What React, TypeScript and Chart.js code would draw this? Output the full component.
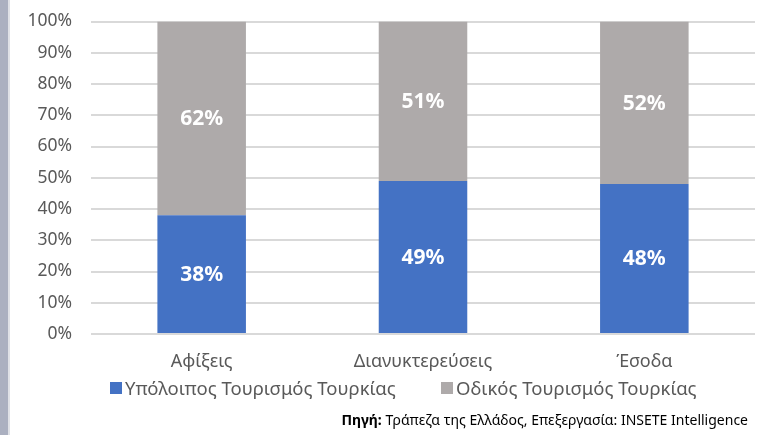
import React, { useEffect, useRef } from "react";
import { Chart, registerables } from "chart.js";

Chart.register(...registerables);

const categories = ["Αφίξεις", "Διανυκτερεύσεις", "Έσοδα"];
const restTourism = [38, 49, 48];
const roadTourism = [62, 51, 52];
const seriesNames = ["Υπόλοιπος Τουρισμός Τουρκίας", "Οδικός Τουρισμός Τουρκίας"];
const seriesColors = ["#4472C4", "#AEAAAA"];
const yTicks = [0, 10, 20, 30, 40, 50, 60, 70, 80, 90, 100];

const FONT = "'Noto Sans', 'Open Sans', sans-serif";

const labelPlugin = {
  id: "segLabels",
  afterDatasetsDraw(chart: any) {
    const ctx = chart.ctx;
    ctx.save();
    ctx.fillStyle = "#ffffff";
    ctx.font = `bold 21px ${FONT}`;
    ctx.textAlign = "center";
    ctx.textBaseline = "middle";
    chart.data.datasets.forEach((ds: any, di: number) => {
      const meta = chart.getDatasetMeta(di);
      meta.data.forEach((bar: any, i: number) => {
        const top = Math.min(bar.y, bar.base);
        const bot = Math.max(bar.y, bar.base);
        ctx.fillText(ds.data[i] + "%", bar.x, (top + bot) / 2 + 1);
      });
    });
    ctx.restore();
  },
};

export default function App() {
  const ref = useRef<HTMLCanvasElement | null>(null);
  useEffect(() => {
    if (!ref.current) return;
    const chart = new Chart(ref.current, {
      type: "bar",
      data: {
        labels: categories,
        datasets: [
          { label: seriesNames[0], data: restTourism, backgroundColor: seriesColors[0], categoryPercentage: 1, barPercentage: 0.4 },
          { label: seriesNames[1], data: roadTourism, backgroundColor: seriesColors[1], categoryPercentage: 1, barPercentage: 0.4 },
        ],
      },
      options: {
        responsive: false,
        animation: false,
        layout: { padding: { left: 8, right: 10, top: 2, bottom: 56 } },
        plugins: { legend: { display: false }, tooltip: { enabled: false } },
        scales: {
          x: {
            stacked: true,
            grid: { display: false },
            border: { display: false },
            ticks: { color: "#595959", font: { family: FONT, size: 18 }, padding: 9 },
            afterFit: (s: any) => { s.height = 45; },
          },
          y: {
            stacked: true,
            min: 0,
            max: 100,
            afterBuildTicks: (s: any) => { s.ticks = yTicks.map((v) => ({ value: v })); },
            grid: { color: "#d9d9d9", lineWidth: 2, drawTicks: false },
            border: { display: false },
            ticks: {
              color: "#595959",
              font: { family: FONT, size: 17.5 },
              padding: 19,
              callback: (v: any) => v + "%",
            },
            afterFit: (s: any) => { s.width = 83; },
          },
        },
      },
      plugins: [labelPlugin],
    });
    return () => chart.destroy();
  }, []);

  return (
    <div style={{ position: "absolute", left: 0, top: 0, width: 765, height: 435, background: "#fff", overflow: "hidden", fontFamily: FONT }}>
      <div style={{ position: "absolute", left: 0, top: 0, width: 8, height: 435, background: "#abb0c0" }} />
      <div style={{ position: "absolute", left: 8, top: 0, width: 2, height: 435, background: "#dfe1e6" }} />
      <canvas ref={ref} width={765} height={443} style={{ position: "absolute", left: 0, top: -8 }} />
      <div style={{ position: "absolute", left: 0, top: 375, width: 765, height: 26, color: "#595959", fontSize: 18.5, lineHeight: "26px", whiteSpace: "nowrap" }}>
        <span style={{ position: "absolute", left: 110, top: 7, width: 12, height: 12, background: seriesColors[0] }} />
        <span style={{ position: "absolute", left: 125, top: 0 }}>{seriesNames[0]}</span>
        <span style={{ position: "absolute", left: 441, top: 7, width: 12, height: 12, background: seriesColors[1] }} />
        <span style={{ position: "absolute", left: 456, top: 0 }}>{seriesNames[1]}</span>
      </div>
      <div style={{ position: "absolute", right: 17, top: 410, color: "#000", fontSize: 14, lineHeight: "20px", whiteSpace: "nowrap" }}>
        <b>Πηγή:</b> Τράπεζα της Ελλάδος, Επεξεργασία: INSETE Intelligence
      </div>
    </div>
  );
}
